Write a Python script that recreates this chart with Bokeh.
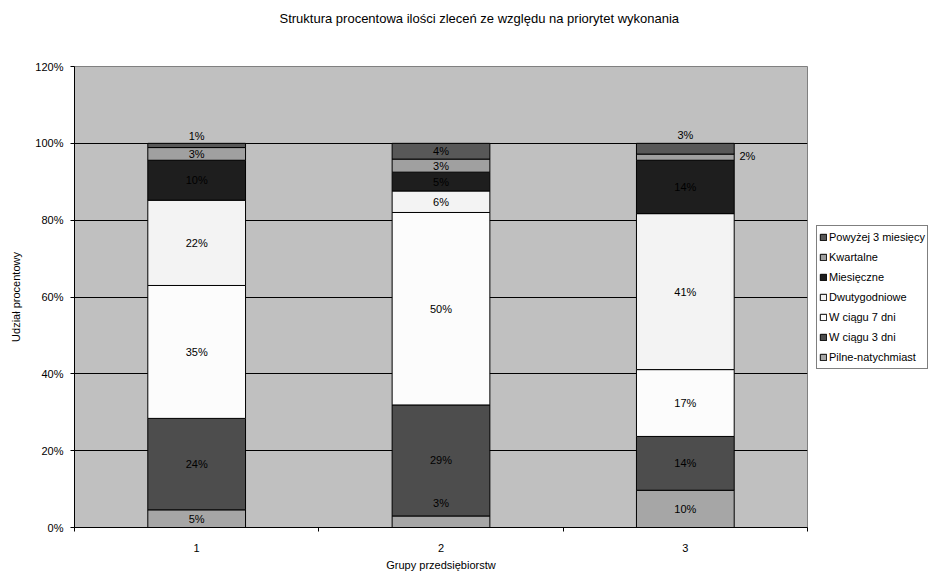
from bokeh.plotting import figure
from bokeh.models import (ColumnDataSource, Range1d, FixedTicker, PrintfTickFormatter,
                          Legend, LegendItem, Title)
from bokeh.core.properties import value
from bokeh.embed import file_html
from bokeh.resources import INLINE

# Company groups (x axis)
groups = [1, 2, 3]

# Priority categories, bottom to top of each stacked bar
categories = ["Pilne-natychmiast", "W ciągu 3 dni", "W ciągu 7 dni", "Dwutygodniowe",
              "Miesięczne", "Kwartalne", "Powyżej 3 miesięcy"]

# Share of orders per priority (%), one value per group
pilne = [4.6, 3.0, 9.7]
w_ciagu_3 = [23.8, 28.9, 14.0]
w_ciagu_7 = [34.6, 50.1, 17.4]
dwutygodniowe = [22.2, 5.6, 40.6]
miesieczne = [10.4, 4.9, 13.9]
kwartalne = [3.3, 3.4, 1.6]
powyzej_3 = [1.1, 4.1, 2.8]

y_ticks = [0, 20, 40, 60, 80, 100, 120]

series = [pilne, w_ciagu_3, w_ciagu_7, dwutygodniowe, miesieczne, kwartalne, powyzej_3]
colors = ["#a6a6a6", "#4d4d4d", "#fcfcfc", "#f3f3f3", "#1e1e1e", "#a0a0a0", "#585858"]

FONT = "Liberation Sans"
keys = ["s%d" % i for i in range(len(categories))]
data = {"x": groups}
for k, s in zip(keys, series):
    data[k] = s
src = ColumnDataSource(data)

p = figure(frame_width=733, frame_height=461, output_backend="svg", toolbar_location=None,
           x_range=Range1d(0.5, 3.5), y_range=Range1d(0, 120),
           min_border_left=74, min_border_right=135, min_border_top=66, min_border_bottom=48)
p.background_fill_color = "#c0c0c0"
p.border_fill_color = "white"
p.outline_line_color = "#808080"
p.outline_line_width = 1

renderers = p.vbar_stack(keys, x="x", width=0.4, source=src, color=colors,
                         line_color="black", line_width=1)

# grid
p.xgrid.visible = False
p.ygrid.ticker = FixedTicker(ticks=[t for t in y_ticks if 0 < t < 120])
p.ygrid.grid_line_color = "black"
p.ygrid.grid_line_width = 1

# axes
p.yaxis.ticker = FixedTicker(ticks=y_ticks)
p.yaxis.formatter = PrintfTickFormatter(format="%d%%")
p.yaxis.major_tick_out = 4
p.yaxis.major_tick_in = 0
p.yaxis.minor_tick_out = 0
p.yaxis.major_label_standoff = 7
p.yaxis.axis_label = "Udział procentowy"
p.yaxis.axis_label_standoff = 10

p.xaxis.ticker = FixedTicker(ticks=groups, minor_ticks=[0.5, 1.5, 2.5, 3.5])
p.xaxis.major_tick_out = 0
p.xaxis.major_tick_in = 0
p.xaxis.minor_tick_out = 4
p.xaxis.minor_tick_in = 0
p.xaxis.major_label_standoff = 12
p.xaxis.axis_label = "Grupy przedsiębiorstw"
p.xaxis.axis_label_standoff = 4

for ax in (p.xaxis[0], p.yaxis[0]):
    ax.axis_line_color = "black"
    ax.major_tick_line_color = "black"
    ax.minor_tick_line_color = "black"
    ax.major_label_text_font = FONT
    ax.major_label_text_font_size = "11px"
    ax.major_label_text_color = "black"
    ax.axis_label_text_font = FONT
    ax.axis_label_text_font_size = "11px"
    ax.axis_label_text_font_style = "normal"
    ax.axis_label_text_color = "black"

# value labels, centred in each segment; a few crowded ones are nudged (pixels)
nudges = {(0, 6): (0, -9), (1, 0): (0, -19), (2, 6): (0, -14), (2, 5): (62, -1)}
lx, ly, lt, dx, dy = [], [], [], [], []
for gi, g in enumerate(groups):
    base = 0.0
    for si, s in enumerate(series):
        v = s[gi]
        lx.append(g)
        ly.append(base + v / 2)
        lt.append("%d%%" % round(v))
        ox, oy = nudges.get((gi, si), (0, 0))
        dx.append(ox)
        dy.append(oy)
        base += v
lab_src = ColumnDataSource(dict(x=lx, y=ly, text=lt, dx=dx, dy=dy))
p.text(x="x", y="y", text="text", x_offset="dx", y_offset="dy", source=lab_src,
       text_font=value(FONT), text_font_size="11px", text_color="black",
       text_align="center", text_baseline="middle")

# legend on the right, listed top segment first
items = [LegendItem(label=c, renderers=[r]) for c, r in zip(categories, renderers)][::-1]
legend = Legend(items=items, location="center_left")
legend.border_line_color = "black"
legend.border_line_width = 1
legend.background_fill_color = "white"
legend.background_fill_alpha = 1
legend.padding = 2
legend.margin = 9
legend.spacing = 2
legend.label_height = 18
legend.glyph_height = 8
legend.glyph_width = 8
legend.label_standoff = 2
legend.label_text_font = FONT
legend.label_text_font_size = "11px"
legend.label_text_color = "black"
p.add_layout(legend, "right")

# chart title
p.title.text = "Struktura procentowa ilości zleceń ze względu na priorytet wykonania"
p.title.align = "left"
p.title.offset = 205
p.title.standoff = 0
p.title.text_font = FONT
p.title.text_font_size = "13px"
p.title.text_font_style = "normal"
p.title.text_color = "black"

# blank gap between the title and the plot area
p.add_layout(Title(text=" ", text_font_size="13px", standoff=24), "above")

open("out.html", "w").write(file_html(p, INLINE))
